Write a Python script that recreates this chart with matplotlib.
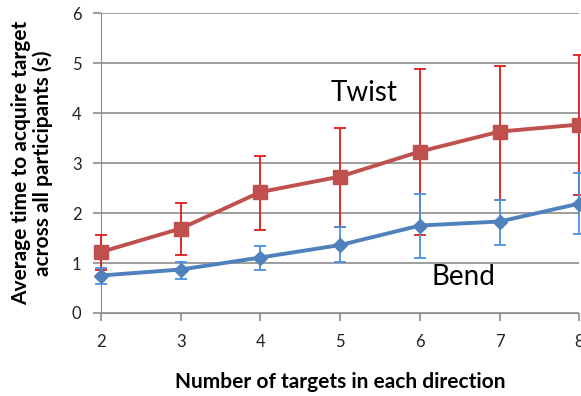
import matplotlib
matplotlib.use("Agg")
import matplotlib.pyplot as plt

# number of targets in each direction
n_targets = [2, 3, 4, 5, 6, 7, 8]

twist_mean = [1.22, 1.69, 2.42, 2.73, 3.23, 3.63, 3.77]
twist_low = [0.86, 1.17, 1.67, 1.73, 1.56, 2.27, 2.36]
twist_high = [1.56, 2.21, 3.15, 3.71, 4.89, 4.94, 5.17]

bend_mean = [0.75, 0.87, 1.11, 1.36, 1.75, 1.83, 2.19]
bend_low = [0.58, 0.69, 0.86, 1.02, 1.11, 1.37, 1.59]
bend_high = [0.91, 1.02, 1.35, 1.73, 2.38, 2.27, 2.80]

plt.rcParams['font.family'] = ['Lato', 'DejaVu Sans']

fig = plt.figure(figsize=(5.81, 3.96), dpi=100)
ax = fig.add_axes([0.1738, 0.2096, 0.8236, 0.7574])

twist_err = [[m - l for m, l in zip(twist_mean, twist_low)],
             [h - m for m, h in zip(twist_mean, twist_high)]]
bend_err = [[m - l for m, l in zip(bend_mean, bend_low)],
            [h - m for m, h in zip(bend_mean, bend_high)]]

ax.errorbar(n_targets, twist_mean, yerr=twist_err, color="#C0504D", lw=2.8,
            marker="s", markersize=10, ecolor="#E01B1B", elinewidth=1.3,
            capsize=4, capthick=1.3, clip_on=False, zorder=3)
ax.errorbar(n_targets, bend_mean, yerr=bend_err, color="#4F81BD", lw=2.8,
            marker="D", markersize=7, ecolor="#4A90E2", elinewidth=1.3,
            capsize=4, capthick=1.3, clip_on=False, zorder=3)

ax.set_xlim(2, 8)
ax.set_ylim(0, 6)
ax.set_xticks(n_targets)
ax.set_yticks(range(0, 7))
ax.grid(True, axis='y', color="#8C8C8C", lw=1.2)
ax.set_axisbelow(True)
for s in ["top", "right"]:
    ax.spines[s].set_visible(False)
ax.spines["left"].set_color("#8C8C8C")
ax.spines["bottom"].set_color("#8C8C8C")
ax.tick_params(axis='both', colors="#8C8C8C", length=6, width=1.2, labelsize=12,
               labelcolor="#222222")
ax.tick_params(axis='x', pad=9)
ax.tick_params(axis='y', pad=8)

ax.text(5.3, 4.4, "Twist", fontsize=20, color="black", ha="center", va="center")
ax.text(6.55, 0.72, "Bend", fontsize=20, color="black", ha="center", va="center")

ax.set_xlabel("Number of targets in each direction", fontsize=15,
              fontweight="bold", labelpad=16)
fig.text(0.055, 0.588, "Average time to acquire target\nacross all participants (s)",
         rotation=90, fontsize=15, fontweight="bold", ha="center", va="center",
         linespacing=1.1)

fig.savefig("out.png", dpi=100)
